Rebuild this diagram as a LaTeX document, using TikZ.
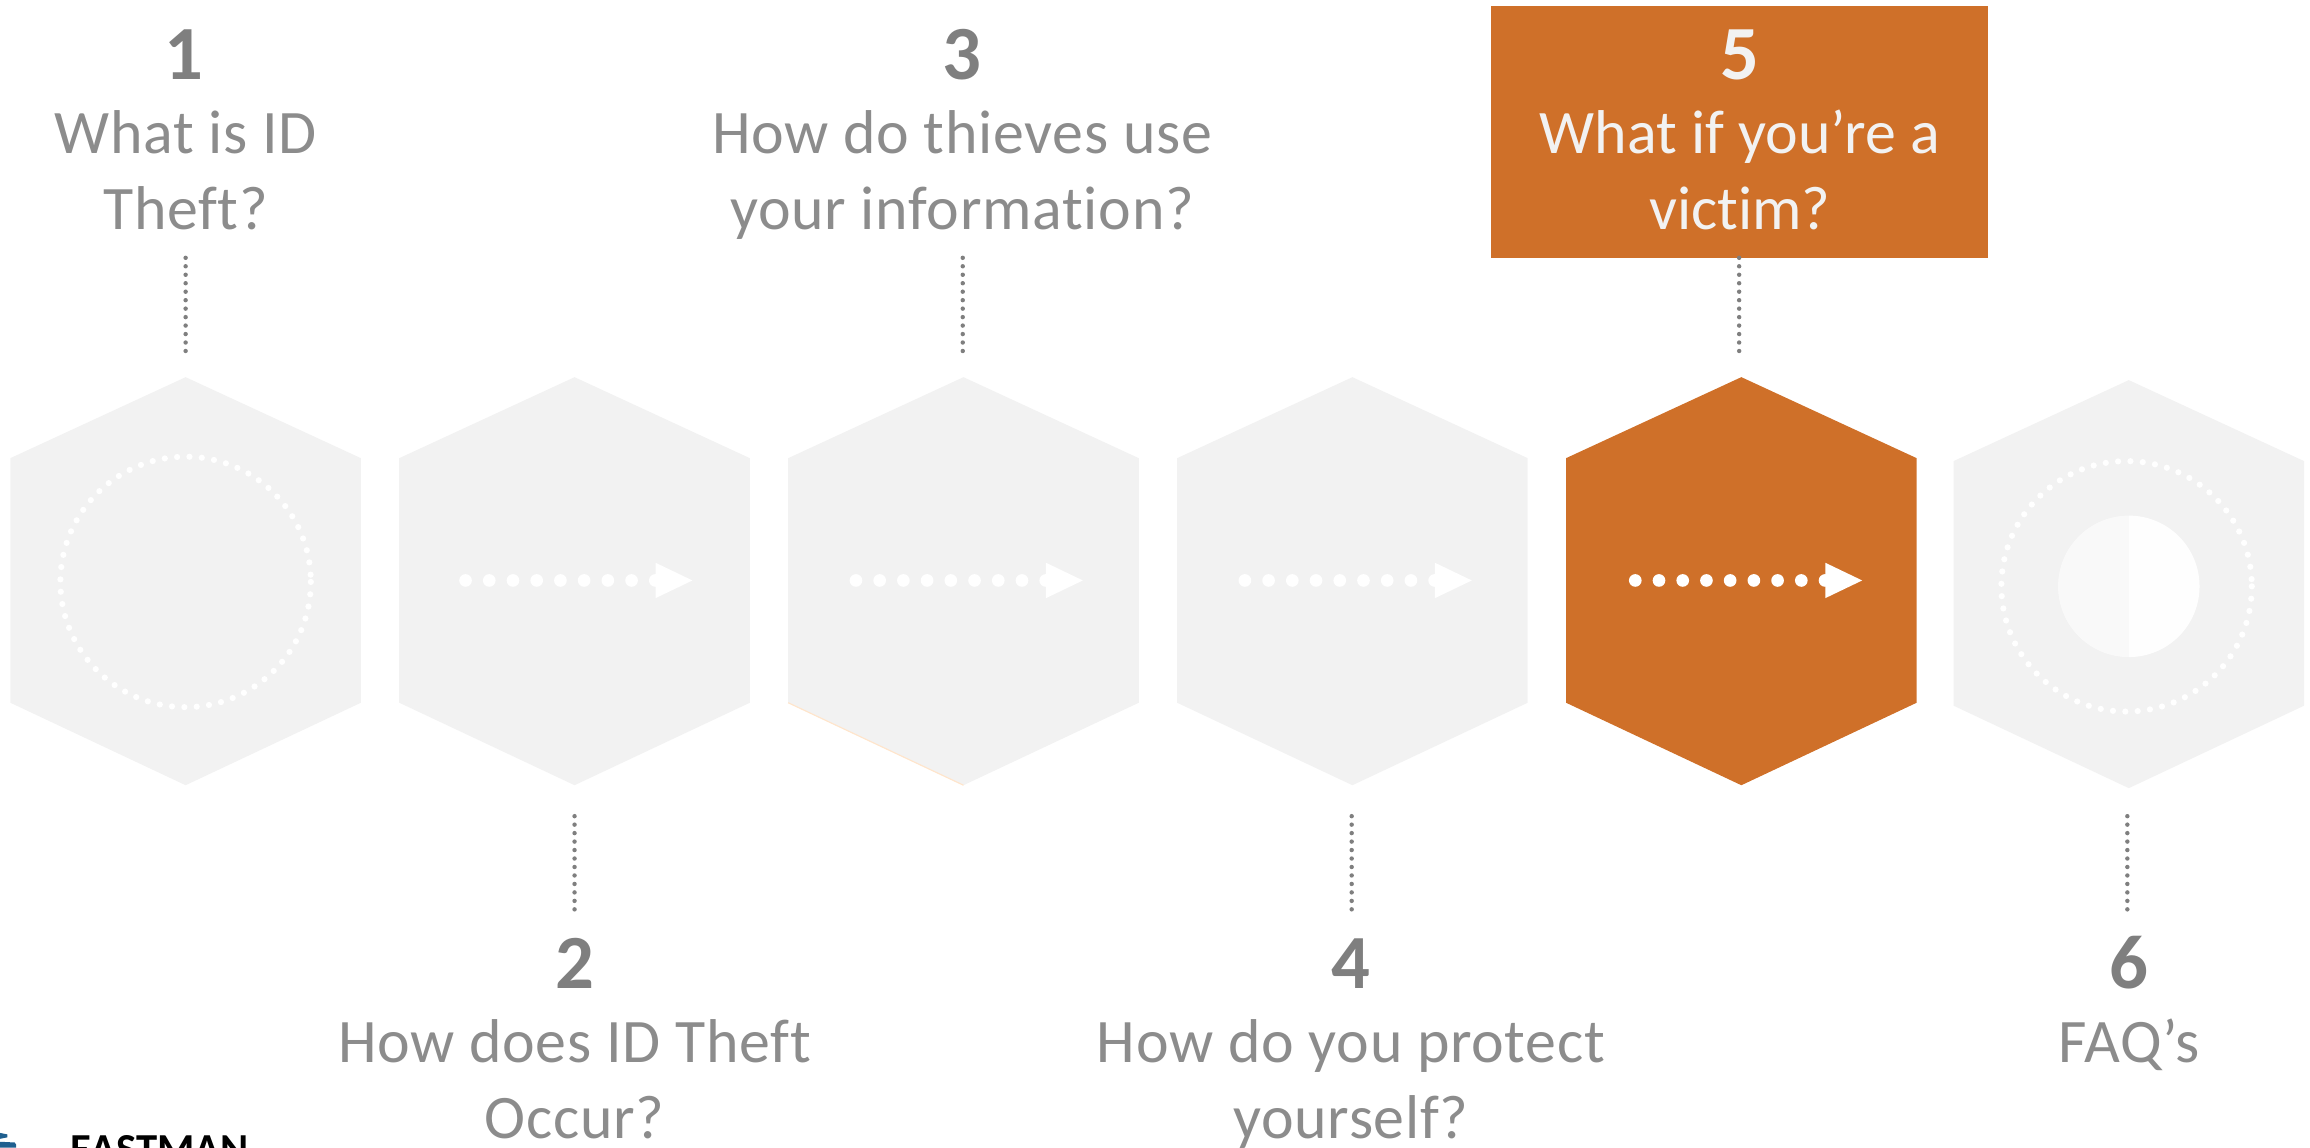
\documentclass[tikz,border=0pt]{standalone}
\usepackage{fontspec}
\setmainfont{Carlito}[Ligatures=CommonOff]
\newfontfamily\spaced[LetterSpace=1.15,Ligatures=CommonOff]{Carlito}
\usetikzlibrary{arrows.meta}
\definecolor{hexgray}{HTML}{F2F2F2}
\definecolor{accent}{HTML}{CF7029}
\definecolor{labelgray}{HTML}{7F7F7F}
\definecolor{lighttext}{HTML}{8C8C8C}
\definecolor{logoblue}{HTML}{1F5F8F}
\tikzset{
  x=1pt,y=-1pt,
  hexfill/.style={fill=#1,draw=none},
  dotline/.style={draw=labelgray,line width=3pt,line cap=round,dash pattern=on 0pt off 5.75pt},
  dotarrow/.style={draw=white,line width=8.6pt,line cap=round,dash pattern=on 0pt off 16.1pt,
     -{Triangle[length=25pt,width=24pt,fill=white,line width=0pt,round=false]}},
  dotring/.style={draw=white,line width=4.2pt,line cap=round,dash pattern=on 0pt off 8.4pt},
  numlabel/.style={text=#1,font=\fontsize{52}{52}\selectfont\bfseries,anchor=base,inner sep=0pt},
  textlabel/.style={text=lighttext,font=\fontsize{42}{52}\selectfont\spaced,align=center,anchor=base,inner sep=0pt},
  activelabel/.style={text=hexgray,font=\fontsize{42}{52}\selectfont,align=center,anchor=base,inner sep=0pt},
}
\newcommand{\hexshape}[4]{% name, cx, cy(top), colour
  \fill[hexfill=#4] (#2,#3) -- (#2+119,#3+55) -- (#2+119,#3+221) -- (#2,#3+277) -- (#2-119,#3+221) -- (#2-119,#3+55) -- cycle;
  \coordinate (#1top) at (#2,#3);
  \coordinate (#1bot) at (#2,#3+277);
}
\begin{document}
\begin{tikzpicture}
\useasboundingbox (0,0) rectangle (1568,779);
% highlight box
\fill[accent] (1012,4) rectangle (1349.5,175);
% hexagons
\hexshape{h1}{126}{256}{hexgray}
\hexshape{h2}{390}{256}{hexgray}
\hexshape{h3}{654}{256}{hexgray}
\draw[draw=orange!20,line width=0.8pt] (535,477) -- (654,533);
\hexshape{h4}{918}{256}{hexgray}
\hexshape{h5}{1182}{256}{accent}
\hexshape{h6}{1445}{258}{hexgray}
% rings
\draw[dotring] (126,395) circle[radius=85];
\draw[dotring] (1443.5,398) circle[radius=85];
\fill[white,opacity=.6] (1445,350) arc[start angle=270,end angle=90,radius=48] -- cycle;
\fill[white,opacity=.95] (1445,350) arc[start angle=270,end angle=450,radius=48] -- cycle;
% arrows
\coordinate (a2s) at (316,394); \coordinate (a2e) at (470,394);
\coordinate (a3s) at (581,394); \coordinate (a3e) at (735,394);
\coordinate (a4s) at (845,394); \coordinate (a4e) at (999,394);
\coordinate (a5s) at (1110,394); \coordinate (a5e) at (1264,394);
\foreach \k in {2,3,4,5} \draw[dotarrow] (a\k s) -- (a\k e);
% labels
\node[numlabel=labelgray] (n1) at (125,54) {1};
\node[textlabel] (t1) at (126,156) {What is ID\\Theft?};
\node[numlabel=labelgray] (n3) at (653,54) {3};
\node[textlabel] (t3) at (653,156) {How do thieves use\\your information?};
\node[numlabel=hexgray] (n5) at (1181,54) {5};
\node[activelabel] (t5) at (1181,156) {What if you’re a\\victim?};
\node[numlabel=labelgray] (n2) at (390,671) {2};
\node[textlabel] (t2) at (390,773) {How does ID Theft\\Occur?};
\node[numlabel=labelgray] (n4) at (917,671) {4};
\node[textlabel] (t4) at (917,773) {How do you protect\\yourself?};
\node[numlabel=labelgray] (n6) at (1445,671) {6};
\node[textlabel] (t6) at (1445,721) {FAQ’s};
% connectors
\coordinate (c1) at (126,175); \coordinate (c3) at (653.5,175); \coordinate (c5) at (1180.5,175);
\coordinate (e1) at (126,242); \coordinate (e3) at (653.5,242); \coordinate (e5) at (1180.5,242);
\coordinate (c2) at (390,554); \coordinate (c4) at (917.5,554); \coordinate (c6) at (1444,554);
\coordinate (e2) at (390,622); \coordinate (e4) at (917.5,622); \coordinate (e6) at (1444,622);
\foreach \k in {1,...,6} \draw[dotline] (c\k) -- (e\k);
% logo, cut by the page edge
\node[text=black,font=\fontsize{29}{29}\selectfont\bfseries,anchor=base west,inner sep=0pt] (logo) at (47.5,790) {EASTMAN};
\fill[logoblue] (0,769) -- (5,770) -- (5,772) -- (0,773) -- cycle;
\fill[logoblue] (0,775) -- (10,775.5) -- (11,777) -- (11,779) -- (0,779) -- cycle;
\end{tikzpicture}
\end{document}
